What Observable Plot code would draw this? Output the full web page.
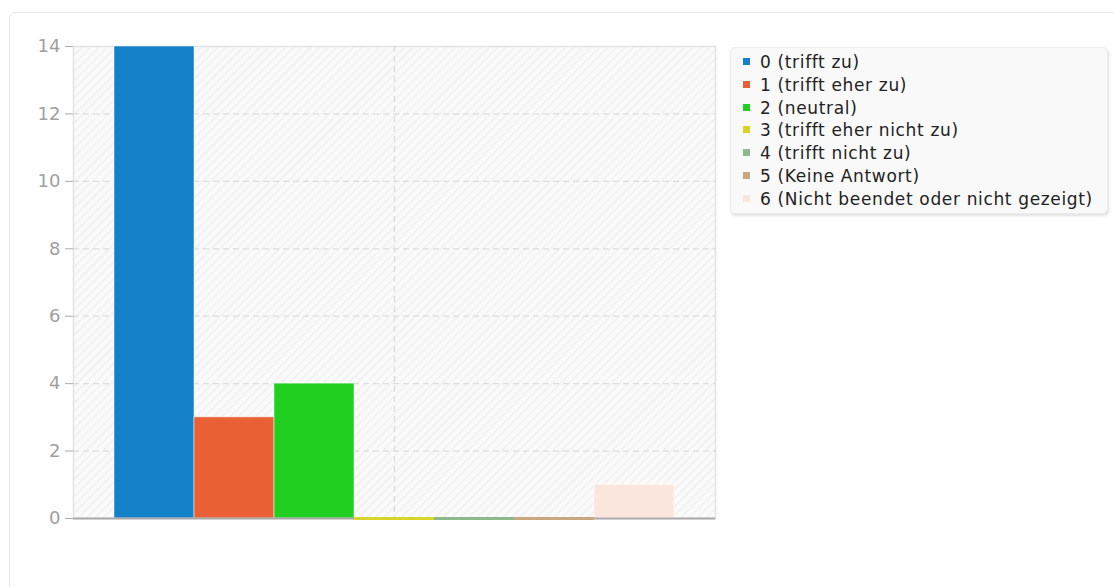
<!DOCTYPE html>
<html>
<head>
<meta charset="utf-8">
<script src="https://cdn.jsdelivr.net/npm/d3@7"></script>
<script src="https://cdn.jsdelivr.net/npm/@observablehq/plot@0.6"></script>
<style>
  html, body { margin: 0; padding: 0; background: #fff; width: 1114px; height: 587px; overflow: hidden; font-family: "DejaVu Sans", sans-serif; }
  #card { position: absolute; left: 9px; top: 12px; width: 1130px; height: 620px; border: 1px solid #e6e6e6; border-radius: 6px; box-sizing: border-box; }
  #chart { position: absolute; left: 0; top: 0; }
  #chart svg text { font-size: 18px !important; font-family: "DejaVu Sans", sans-serif; }
  #legend { position: absolute; left: 730px; top: 47px; width: 378px; height: 167px; box-sizing: border-box; background: #f9f9f9; border: 1px solid #ececec; border-radius: 5px; box-shadow: 1px 2px 3px rgba(0,0,0,0.12); padding: 3px 0 0 12px; }
  .item { height: 22.8px; line-height: 22.8px; font-size: 17px; letter-spacing: 0.65px; color: #222; white-space: nowrap; }
  .sw { display: inline-block; width: 7px; height: 7px; margin-right: 10px; vertical-align: 3px; }
</style>
</head>
<body>
<div id="card"></div>
<div id="chart"></div>
<div id="legend"></div>
<script>
const categories = [
  "0 (trifft zu)",
  "1 (trifft eher zu)",
  "2 (neutral)",
  "3 (trifft eher nicht zu)",
  "4 (trifft nicht zu)",
  "5 (Keine Antwort)",
  "6 (Nicht beendet oder nicht gezeigt)"
];
const counts = [14, 3, 4, 0, 0, 0, 1];
const colors = ["#1380c8", "#e86033", "#21cf21", "#d8d52a", "#8db98d", "#c9a880", "#fae6dd"];
const yTicks = [0, 2, 4, 6, 8, 10, 12, 14];

const data = categories.map((c, i) => ({cat: c, value: counts[i], color: colors[i]}));

const hatch = () => {
  const ns = "http://www.w3.org/2000/svg";
  const g = document.createElementNS(ns, "g");
  g.innerHTML = `<defs><pattern id="hatch" patternUnits="userSpaceOnUse" width="6" height="6" patternTransform="rotate(45)">
    <rect width="6" height="6" fill="#fafafa"/><line x1="0" y1="0" x2="0" y2="6" stroke="#efefef" stroke-width="2.5"/></pattern></defs>`;
  return g;
};

const chart = Plot.plot({
  width: 720,
  height: 570,
  marginLeft: 73,
  marginRight: 5,
  marginTop: 46,
  marginBottom: 52,
  style: {fontFamily: "DejaVu Sans, sans-serif", fontSize: "18px", color: "#999", background: "transparent"},
  x: {domain: categories, paddingInner: 0, paddingOuter: 0.5, axis: null},
  y: {domain: [0, 14], ticks: yTicks, label: null},
  color: {type: "identity"},
  marks: [
    hatch,
    Plot.frame({fill: "url(#hatch)", stroke: "#e2e2e2", strokeWidth: 1.5}),
    Plot.gridY(yTicks.filter(t => t > 0 && t < 14), {stroke: "#dcdcdc", strokeOpacity: 1, strokeDasharray: "6,4", strokeWidth: 1.3}),
    Plot.ruleX([categories[3]], {stroke: "#dcdcdc", strokeDasharray: "6,4", strokeWidth: 1.3}),
    Plot.axisY({ticks: yTicks, tickSize: 8, tickPadding: 5, stroke: "#aaa", fill: "#a0a0a0", fontSize: 18, label: null}),
    Plot.ruleX([0], {frameAnchor: "left", stroke: "#aaa", strokeWidth: 1.5}),
    Plot.barY(data, {x: "cat", y: "value", fill: "color", stroke: "white", strokeOpacity: 0.5, strokeWidth: 1}),
    Plot.ruleY([0], {stroke: "#aaa", strokeWidth: 2}),
    Plot.tickY(data.filter(d => d.value === 0), {x: "cat", y: "value", stroke: "color", strokeWidth: 3})
  ]
});
document.getElementById("chart").appendChild(chart);

const legend = d3.select("#legend");
categories.forEach((c, i) => {
  const it = legend.append("div").attr("class", "item");
  it.append("span").attr("class", "sw").style("background", colors[i]);
  it.append("span").text(c);
});
</script>
</body>
</html>
